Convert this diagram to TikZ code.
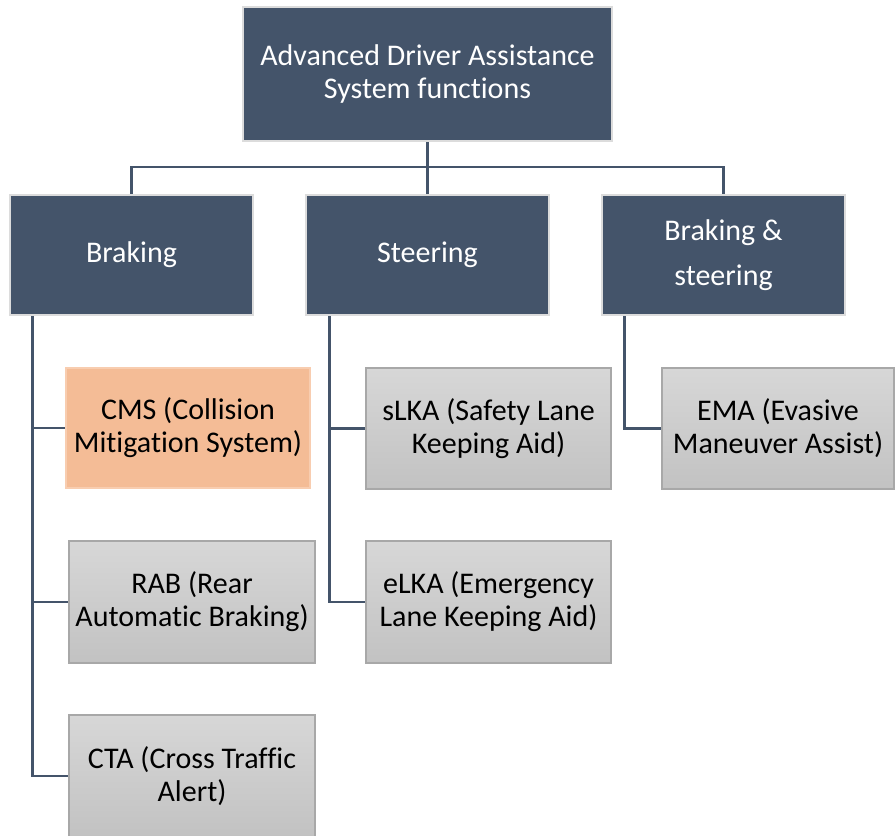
\documentclass[tikz,border=0pt]{standalone}
\usepackage{fontspec}
\setmainfont{Carlito}[Ligatures=NoCommon]
\begin{document}
\begin{tikzpicture}[x=1pt,y=-1pt,
  txt/.style={font=\fontsize{30}{33}\selectfont, align=center, inner sep=0pt},
  headbox/.style={txt, fill=hdark, draw=hborder, line width=2.5pt, text=white},
  hotbox/.style={txt, fill=peach, draw=peachedge, line width=1.2pt, text=black},
  itembox/.style={txt, top color=gtop, bottom color=gbot, draw=gedge, line width=1.5pt, text=black},
  link/.style={draw=hdark, line width=2.6pt}
]
\definecolor{hdark}{HTML}{44546A}
\definecolor{hborder}{HTML}{DCDCDC}
\definecolor{peach}{HTML}{F4BC96}
\definecolor{peachedge}{HTML}{F8CDB0}
\definecolor{gtop}{HTML}{D7D7D7}
\definecolor{gbot}{HTML}{C2C2C2}
\definecolor{gedge}{HTML}{A8A8A8}
\useasboundingbox (0,0) rectangle (895,836);
\fill[white] (0,0) rectangle (895,836);

% root
\node[headbox, minimum width=369pt, minimum height=134pt] (root) at (427.5,74) {Advanced Driver Assistance\\System functions};

% categories
\node[headbox, minimum width=243pt, minimum height=120pt] (brk) at (131.5,255) {Braking};
\node[headbox, minimum width=243pt, minimum height=120pt] (ste) at (427.5,255) {Steering};
\node[headbox, minimum width=243pt, minimum height=120pt, font=\fontsize{30}{45}\selectfont] (bns) at (723.5,255) {Braking \&\\steering};

% functions
\node[hotbox, minimum width=244pt, minimum height=120pt] (cms) at (188,428) {CMS (Collision\\Mitigation System)};
\node[itembox, minimum width=246pt, minimum height=122pt] (rab) at (192,602) {RAB (Rear\\Automatic Braking)};
\node[itembox, minimum width=246pt, minimum height=122pt] (cta) at (192,776) {CTA (Cross Traffic\\Alert)};
\node[itembox, minimum width=245pt, minimum height=121pt] (slka) at (488.5,428.5) {sLKA (Safety Lane\\Keeping Aid)};
\node[itembox, minimum width=245pt, minimum height=122pt] (elka) at (488.5,602) {eLKA (Emergency\\Lane Keeping Aid)};
\node[itembox, minimum width=232pt, minimum height=121pt] (ema) at (778,428.5) {EMA (Evasive\\Maneuver Assist)};

% tree connectors from the root
\coordinate (bus) at (428,167);
\draw[link] (root.south) -- (ste.north);
\draw[link] (brk.north) |- (bus) -| (bns.north);

% branch connectors
\draw[link] ([xshift=24pt]brk.south west) |- (cms.west);
\draw[link] ([xshift=24pt]brk.south west) |- (rab.west);
\draw[link] ([xshift=24pt]brk.south west) |- (cta.west);
\draw[link] ([xshift=25pt]ste.south west) |- (slka.west);
\draw[link] ([xshift=25pt]ste.south west) |- (elka.west);
\draw[link] ([xshift=24pt]bns.south west) |- (ema.west);
\end{tikzpicture}
\end{document}
